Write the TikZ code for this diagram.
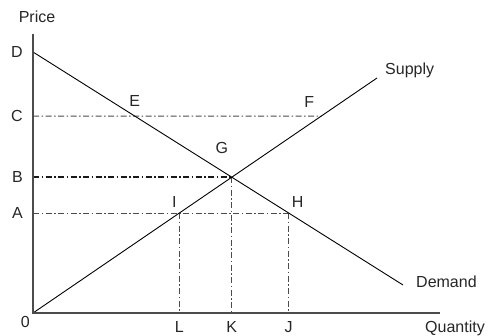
\documentclass[tikz,border=0pt]{standalone}
\usepackage{fontspec}
\setmainfont{Liberation Sans}
\usetikzlibrary{positioning, calc}
\tikzset{
    axis/.style={draw=black!70, line width=1.4pt},
    curve/.style={draw=black, line width=0.9pt},
    guide/.style={draw=black!70, line width=1pt, dash pattern=on 6pt off 2.5pt on 1.5pt off 2.5pt},
    guidebold/.style={draw=black!90, line width=1.7pt, dash pattern=on 6pt off 2.5pt on 1.5pt off 2.5pt},
    lbl/.style={font=\fontsize{16}{19}\selectfont, inner sep=0pt, text=black!85}
}
\begin{document}
\begin{tikzpicture}[x=1pt, y=-1pt]
    \useasboundingbox (0,0) rectangle (494,335);

    % ---------------- KEY POINTS ---------------- %
    \coordinate (O) at (33,313);
    \coordinate (Ytop) at (33,34);
    \coordinate (Xend) at (440,313);
    \coordinate (D) at (33,52);
    \coordinate (Dend) at (403,285);
    \coordinate (Send) at (377,78);
    \coordinate (C) at (33,116);
    \coordinate (Cr) at (440,116);
    \coordinate (A) at (33,213);
    \coordinate (Ar) at (440,213);
    \coordinate (G) at (intersection of O--Send and D--Dend);
    \coordinate (B) at (G -| O);
    \coordinate (E) at (intersection of D--Dend and C--Cr);
    \coordinate (F) at (intersection of O--Send and C--Cr);
    \coordinate (I) at (intersection of O--Send and A--Ar);
    \coordinate (H) at (intersection of D--Dend and A--Ar);
    \coordinate (L) at (I |- O);
    \coordinate (K) at (G |- O);
    \coordinate (J) at (H |- O);

    % ---------------- GUIDE LINES ---------------- %
    \draw[guide] (C) -- (F);
    \draw[guide] (A) -- (H);
    \draw[guidebold] (B) -- (G);
    \draw[guide] (I) -- (L);
    \draw[guide] (G) -- (K);
    \draw[guide] (H) -- (J);

    % ---------------- SUPPLY & DEMAND ---------------- %
    \draw[curve] (D) -- (Dend);
    \draw[curve] (O) -- (Send);

    % Axes
    \draw[axis] (Ytop) -- (O) -- (Xend);

    % ---------------- LABELS ---------------- %
    \node[lbl, above=11pt of Ytop, xshift=4pt] (price) {Price};
    \node[lbl, below=8pt of Xend, xshift=15pt] (qty) {Quantity};
    \node[lbl, below left=3pt and 3pt of O] (zero) {0};
    \node[lbl, left=10pt of D] (dlbl) {D};
    \node[lbl, left=10pt of C] (clbl) {C};
    \node[lbl, left=10pt of B] (blbl) {B};
    \node[lbl, left=10pt of A] (albl) {A};
    \node[lbl, below=8pt of L] (llbl) {L};
    \node[lbl, below=8pt of K] (klbl) {K};
    \node[lbl, below=8pt of J] (jlbl) {J};
    \node[lbl, above=9pt of E] (elbl) {E};
    \node[lbl, above=8pt of F, xshift=-12pt] (flbl) {F};
    \node[lbl, above=23pt of G, xshift=-10pt] (glbl) {G};
    \node[lbl, above=5pt of I, xshift=-5pt] (ilbl) {I};
    \node[lbl, above=5pt of H, xshift=9pt] (hlbl) {H};
    \node[lbl, right=8pt of Send, yshift=8pt, anchor=west] (slbl) {Supply};
    \node[lbl, right=13pt of Dend, yshift=3pt, anchor=west] (dmlbl) {Demand};
\end{tikzpicture}
\end{document}
